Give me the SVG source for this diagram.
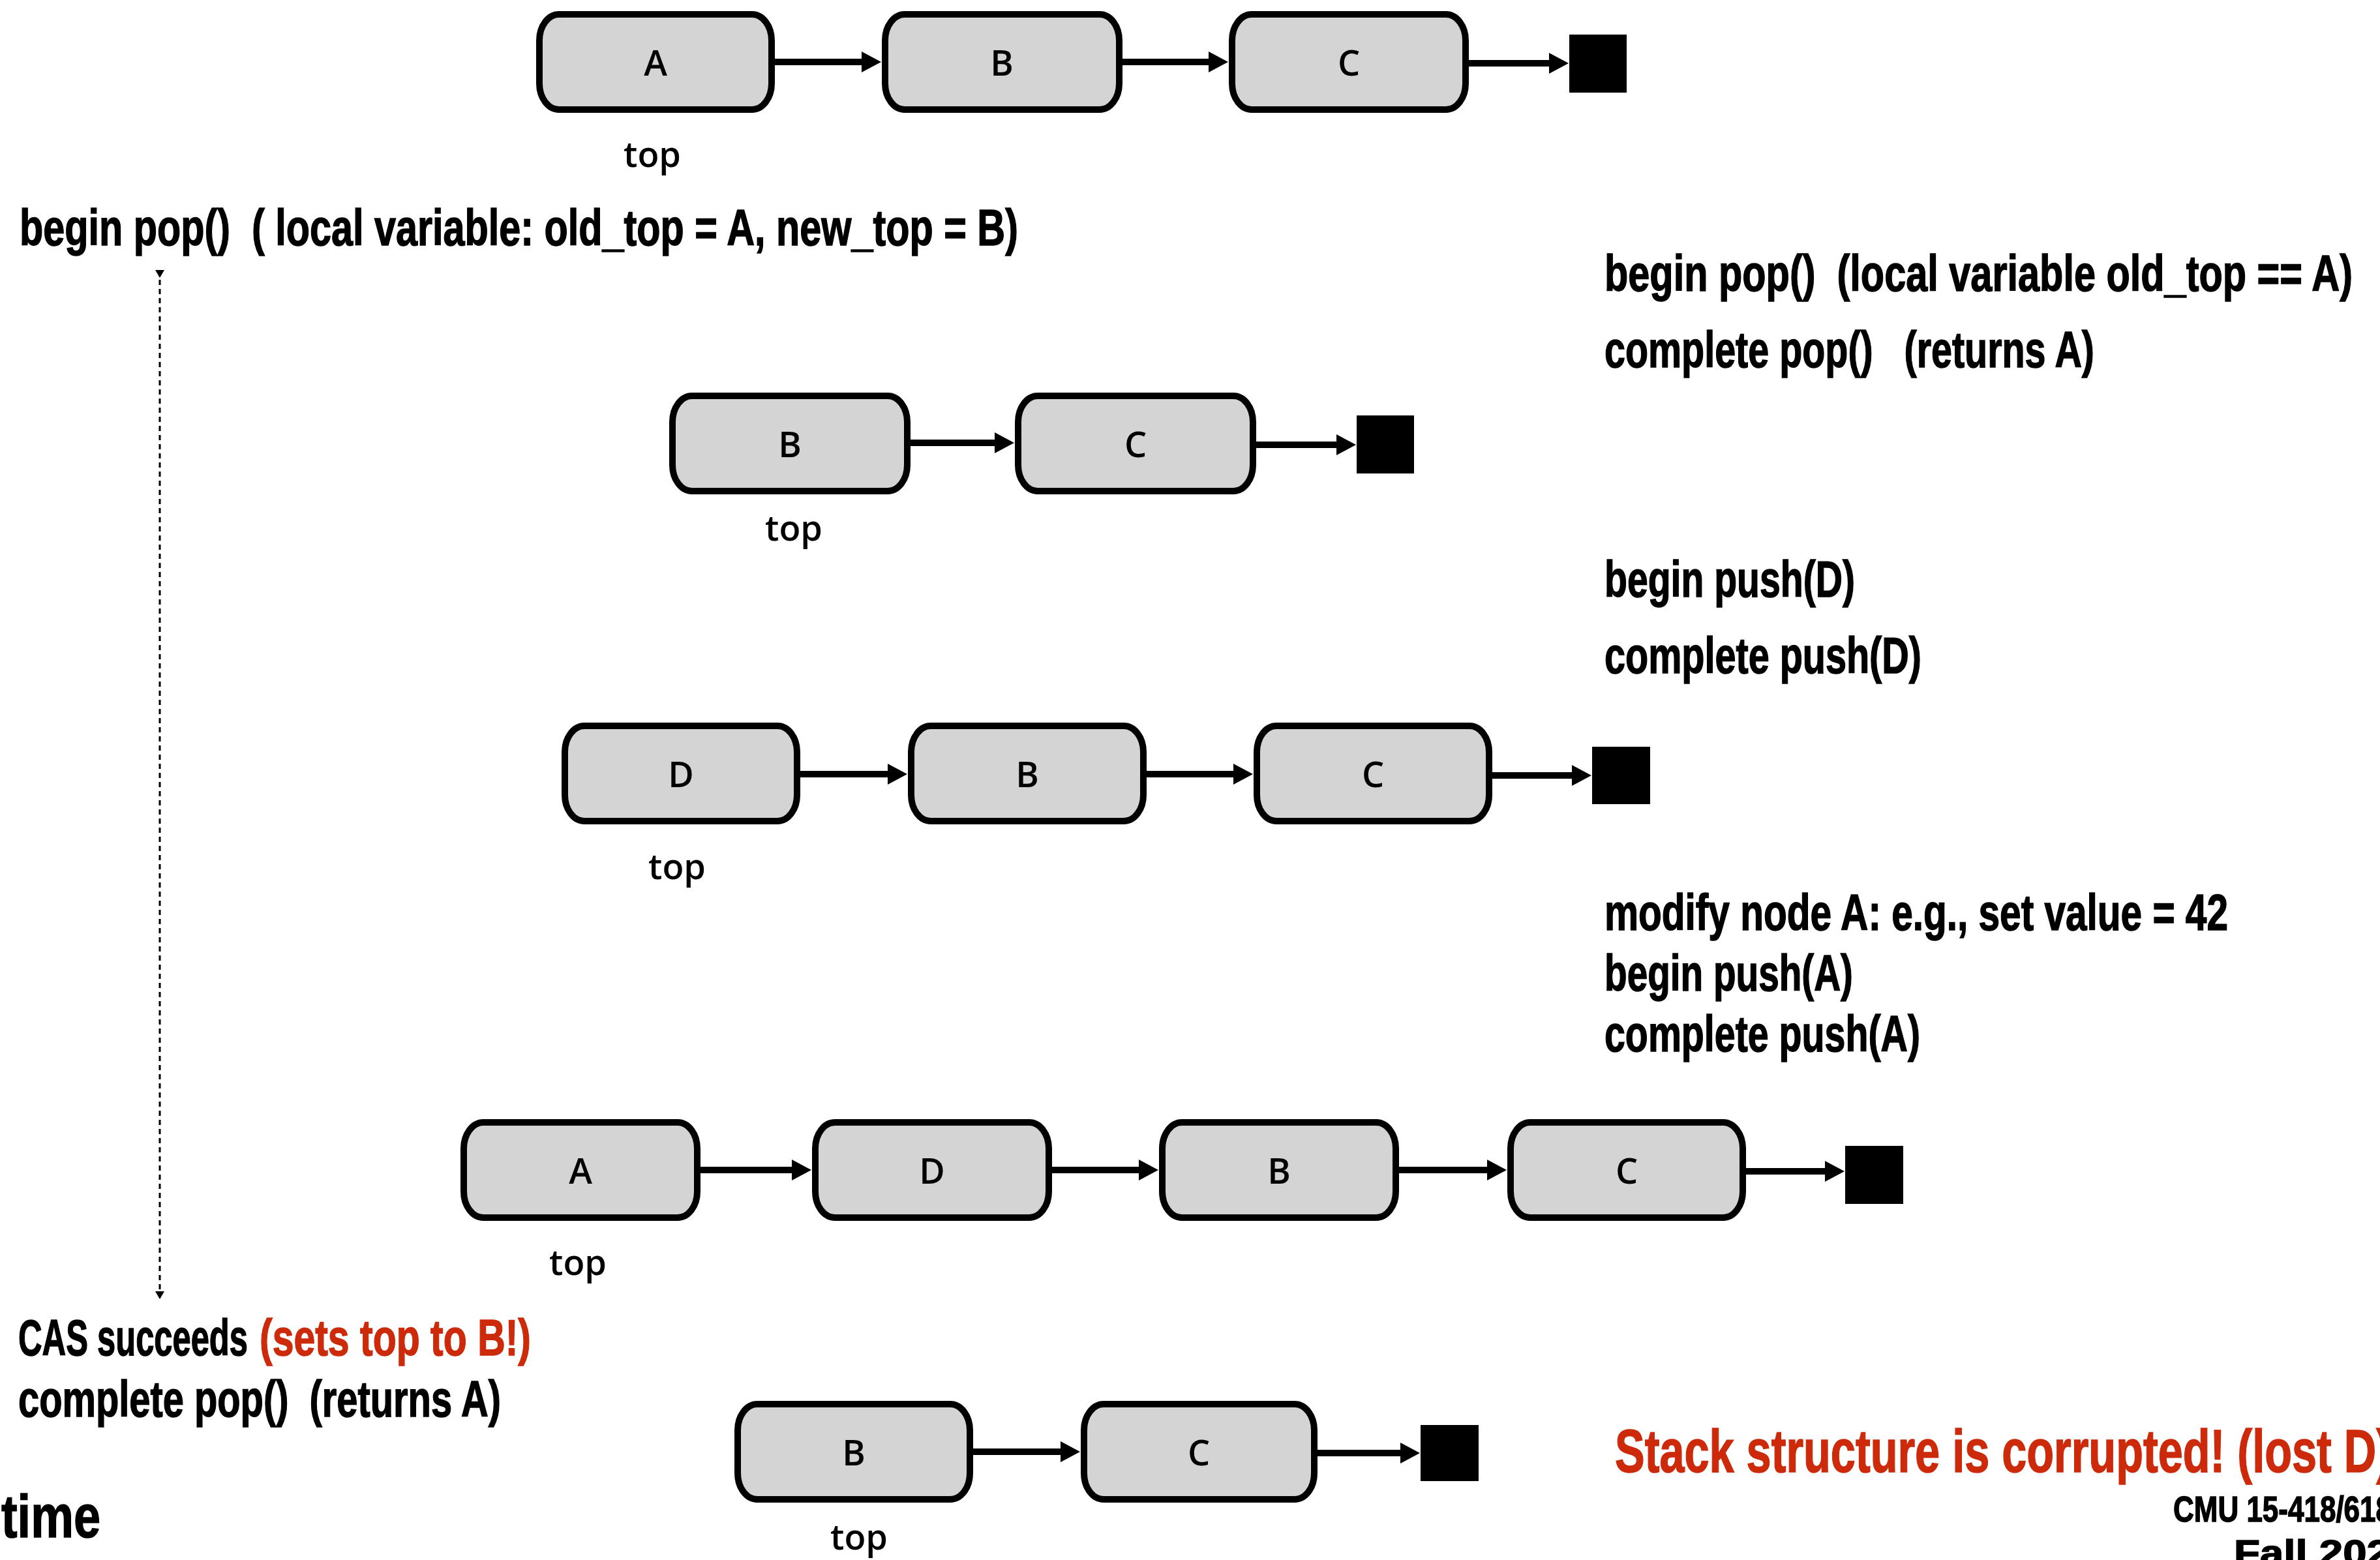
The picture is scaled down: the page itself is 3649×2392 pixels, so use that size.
<svg xmlns="http://www.w3.org/2000/svg" width="3649" height="2392" viewBox="0 0 3649 2392">
<style>
.node rect.box{fill:#d4d4d4;stroke:#000;stroke-width:10}
.lbl{font-family:"Open Sans","Liberation Sans",sans-serif;font-weight:600;font-size:54px;fill:#000;text-anchor:middle}
.txt{font-family:"Liberation Sans",Arial,sans-serif;font-weight:bold;font-size:78px;fill:#000;stroke:#000;stroke-width:1.5;white-space:pre}
.red{fill:#cc2a0a;stroke:#cc2a0a}
.big{font-size:92px}
.small{font-size:56px}
.link{stroke:#000;stroke-width:10;fill:none;marker-end:url(#ah)}
.nil{fill:#000}
</style>
<defs>
<marker id="ah" viewBox="0 0 30 32" refX="1" refY="16" markerWidth="30" markerHeight="32" markerUnits="userSpaceOnUse" orient="auto"><path d="M0,0 L30,16 L0,32 z" fill="#000"/></marker>
<marker id="sh" viewBox="0 0 12 14" refX="1" refY="7" markerWidth="12" markerHeight="14" markerUnits="userSpaceOnUse" orient="auto"><path d="M0,0 L12,7 L0,14 z" fill="#000"/></marker>
</defs>
<rect width="3649" height="2392" fill="#fff"/>

<!-- Row 1 -->
<g id="r1-A" class="node"><rect class="box" x="827" y="22" width="356" height="146" rx="30" ry="40"/><text class="lbl" x="1005" y="116">A</text></g>
<g id="r1-B" class="node"><rect class="box" x="1357" y="22" width="359" height="146" rx="30" ry="40"/><text class="lbl" x="1536" y="116">B</text></g>
<g id="r1-C" class="node"><rect class="box" x="1889" y="22" width="358" height="146" rx="30" ry="40"/><text class="lbl" x="2068" y="116">C</text></g>
<g id="r1-nil" class="node"><rect class="nil" x="2406" y="53" width="88" height="89"/></g>
<text id="r1-top" class="lbl" x="1000" y="256">top</text>

<!-- Row 2 -->
<g id="r2-B" class="node"><rect class="box" x="1031" y="607" width="360" height="146" rx="30" ry="40"/><text class="lbl" x="1211" y="701">B</text></g>
<g id="r2-C" class="node"><rect class="box" x="1561" y="607" width="360" height="146" rx="30" ry="40"/><text class="lbl" x="1741" y="701">C</text></g>
<g id="r2-nil" class="node"><rect class="nil" x="2080" y="637" width="88" height="89"/></g>
<text id="r2-top" class="lbl" x="1217" y="829">top</text>

<!-- Row 3 -->
<g id="r3-D" class="node"><rect class="box" x="866" y="1113" width="356" height="146" rx="30" ry="40"/><text class="lbl" x="1044" y="1207">D</text></g>
<g id="r3-B" class="node"><rect class="box" x="1397" y="1113" width="356" height="146" rx="30" ry="40"/><text class="lbl" x="1575" y="1207">B</text></g>
<g id="r3-C" class="node"><rect class="box" x="1927" y="1113" width="356" height="146" rx="30" ry="40"/><text class="lbl" x="2105" y="1207">C</text></g>
<g id="r3-nil" class="node"><rect class="nil" x="2441" y="1145" width="89" height="88"/></g>
<text id="r3-top" class="lbl" x="1038" y="1348">top</text>

<!-- Row 4 -->
<g id="r4-A" class="node"><rect class="box" x="711" y="1721" width="358" height="146" rx="30" ry="40"/><text class="lbl" x="890" y="1815">A</text></g>
<g id="r4-D" class="node"><rect class="box" x="1250" y="1721" width="358" height="146" rx="30" ry="40"/><text class="lbl" x="1429" y="1815">D</text></g>
<g id="r4-B" class="node"><rect class="box" x="1782" y="1721" width="358" height="146" rx="30" ry="40"/><text class="lbl" x="1961" y="1815">B</text></g>
<g id="r4-C" class="node"><rect class="box" x="2316" y="1721" width="356" height="146" rx="30" ry="40"/><text class="lbl" x="2494" y="1815">C</text></g>
<g id="r4-nil" class="node"><rect class="nil" x="2829" y="1757" width="89" height="89"/></g>
<text id="r4-top" class="lbl" x="886" y="1955">top</text>

<!-- Row 5 -->
<g id="r5-B" class="node"><rect class="box" x="1131" y="2153" width="356" height="146" rx="30" ry="40"/><text class="lbl" x="1309" y="2247">B</text></g>
<g id="r5-C" class="node"><rect class="box" x="1662" y="2153" width="353" height="146" rx="30" ry="40"/><text class="lbl" x="1838" y="2247">C</text></g>
<g id="r5-nil" class="node"><rect class="nil" x="2178" y="2185" width="89" height="86"/></g>
<text id="r5-top" class="lbl" x="1317" y="2376">top</text>

<!-- Connectors -->
<g id="connectors">
<line class="link" x1="1188" y1="95" x2="1322" y2="95"/>
<line class="link" x1="1721" y1="95" x2="1854" y2="95"/>
<line class="link" x1="2252" y1="97" x2="2376" y2="97"/>
<line class="link" x1="1396" y1="679" x2="1526" y2="679"/>
<line class="link" x1="1926" y1="682" x2="2050" y2="682"/>
<line class="link" x1="1227" y1="1187" x2="1362" y2="1187"/>
<line class="link" x1="1758" y1="1187" x2="1892" y2="1187"/>
<line class="link" x1="2288" y1="1189" x2="2411" y2="1189"/>
<line class="link" x1="1074" y1="1794" x2="1215" y2="1794"/>
<line class="link" x1="1613" y1="1794" x2="1747" y2="1794"/>
<line class="link" x1="2145" y1="1794" x2="2281" y2="1794"/>
<line class="link" x1="2677" y1="1796" x2="2799" y2="1796"/>
<line class="link" x1="1492" y1="2226" x2="1627" y2="2226"/>
<line class="link" x1="2020" y1="2228" x2="2148" y2="2228"/>
<line x1="245" y1="415" x2="245" y2="1981" stroke="#000" stroke-width="3" stroke-dasharray="8 6" marker-start="url(#sh)" marker-end="url(#sh)"/>
</g>

<!-- Texts -->
<g id="texts" xml:space="preserve">
<text class="txt" x="30" y="376" textLength="1531" lengthAdjust="spacingAndGlyphs">begin pop()  ( local variable: old_top = A, new_top = B)</text>
<text class="txt" x="2460" y="446" textLength="1147" lengthAdjust="spacingAndGlyphs">begin pop()  (local variable old_top == A)</text>
<text class="txt" x="2460" y="563" textLength="751" lengthAdjust="spacingAndGlyphs">complete pop()   (returns A)</text>
<text class="txt" x="2460" y="915" textLength="384" lengthAdjust="spacingAndGlyphs">begin push(D)</text>
<text class="txt" x="2460" y="1032" textLength="486" lengthAdjust="spacingAndGlyphs">complete push(D)</text>
<text class="txt" x="2460" y="1426" textLength="956" lengthAdjust="spacingAndGlyphs">modify node A: e.g., set value = 42</text>
<text class="txt" x="2460" y="1519" textLength="381" lengthAdjust="spacingAndGlyphs">begin push(A)</text>
<text class="txt" x="2460" y="1612" textLength="484" lengthAdjust="spacingAndGlyphs">complete push(A)</text>
<text class="txt" x="28" y="2078" textLength="352" lengthAdjust="spacingAndGlyphs">CAS succeeds</text>
<text class="txt red" x="398" y="2078" textLength="416" lengthAdjust="spacingAndGlyphs">(sets top to B!)</text>
<text class="txt" x="28" y="2172" textLength="740" lengthAdjust="spacingAndGlyphs">complete pop()  (returns A)</text>
<text class="txt big" x="2" y="2357" textLength="152" lengthAdjust="spacingAndGlyphs">time</text>
<text class="txt big red" x="2476" y="2257" textLength="1190" lengthAdjust="spacingAndGlyphs">Stack structure is corrupted! (lost D)</text>
<text class="txt small" x="3332" y="2333" textLength="335" lengthAdjust="spacingAndGlyphs">CMU 15-418/618</text>
<text class="txt small" x="3425" y="2400" textLength="240" lengthAdjust="spacingAndGlyphs">Fall 202</text>
</g>
</svg>
